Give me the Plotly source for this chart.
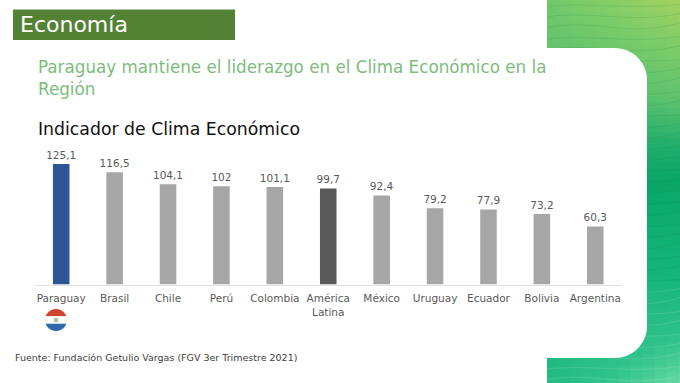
import numpy as np
import plotly.graph_objects as go

categories = ["Paraguay", "Brasil", "Chile", "Perú", "Colombia", "América<br>Latina",
              "México", "Uruguay", "Ecuador", "Bolivia", "Argentina"]
values = [125.1, 116.5, 104.1, 102, 101.1, 99.7, 92.4, 79.2, 77.9, 73.2, 60.3]
value_labels = ["125,1", "116,5", "104,1", "102", "101,1", "99,7", "92,4", "79,2", "77,9", "73,2", "60,3"]
bar_colors = ["#2F5597", "#A6A6A6", "#A6A6A6", "#A6A6A6", "#A6A6A6", "#595959",
              "#A6A6A6", "#A6A6A6", "#A6A6A6", "#A6A6A6", "#A6A6A6"]

W, H = 680, 383
FONT = "DejaVu Sans"
def px(x): return x / W
def py(y): return 1 - y / H

fig = go.Figure(go.Bar(
    x=categories, y=values, marker=dict(color=bar_colors, line=dict(width=0)),
    text=value_labels, textposition="outside", cliponaxis=False, constraintext="none",
    textfont=dict(family=FONT, size=10.5, color="#595959"), width=0.31,
    hoverinfo="skip",
))

shapes = []
# green gradient strip, slightly diagonal at both ends
stops = [(-70, (175, 212, 96)), (0, (165, 210, 96)), (50, (125, 205, 105)), (100, (95, 195, 110)),
         (145, (35, 175, 108)), (180, (10, 166, 104)), (280, (22, 182, 124)),
         (340, (50, 195, 140)), (383, (100, 218, 165))]
ys, rs = [s[0] for s in stops], np.array([s[1] for s in stops], dtype=float)
CW, CH = 12, 6
for x0 in range(547, W, CW):
    for y0 in range(0, H, CH):
        slope = np.interp(y0, [0, 170, 290, 383], [0.5, 0, 0, -0.6])
        t = y0 + CH / 2 + (W - x0 - CW / 2) * slope
        c = [int(np.interp(t, ys, rs[:, k])) for k in range(3)]
        shapes.append(dict(type="rect", xref="paper", yref="paper", layer="below",
                           x0=px(x0), x1=px(min(x0 + CW + 1, W)), y0=py(y0), y1=py(min(y0 + CH + 1, H)),
                           fillcolor=f"rgb({c[0]},{c[1]},{c[2]})", line=dict(width=0)))
# faint wave contours
for i, y0 in enumerate(range(6, H, 11)):
    d = 3 + 2 * ((i * 7) % 5)
    path = (f"M {px(547)} {py(y0)} C {px(590)} {py(y0 - d)}, {px(630)} {py(y0 + d)}, {px(680)} {py(y0 - d / 2)}")
    shapes.append(dict(type="path", xref="paper", yref="paper", layer="below", path=path,
                       line=dict(color="rgba(255,255,255,0.12)" if y0 > 290 else "rgba(20,120,60,0.15)", width=1)))
# white rounded panel
r = 32
panel = (f"M {px(547)} {py(48)} L {px(647 - r)} {py(48)} "
         f"C {px(647 - r * 0.45)} {py(48)}, {px(647)} {py(48 + r * 0.45)}, {px(647)} {py(48 + r)} "
         f"L {px(647)} {py(358 - r)} "
         f"C {px(647)} {py(358 - r * 0.45)}, {px(647 - r * 0.45)} {py(358)}, {px(647 - r)} {py(358)} "
         f"L {px(547)} {py(358)} Z")
shapes.append(dict(type="path", xref="paper", yref="paper", layer="below", path=panel,
                   fillcolor="white", line=dict(width=0)))
# header band
shapes.append(dict(type="rect", xref="paper", yref="paper", layer="below",
                   x0=px(13), x1=px(235), y0=py(9.5), y1=py(40),
                   fillcolor="#548235", line=dict(width=0)))
# flag
cx, cy, fr = 56, 320, 11
def seg(y_a, y_b, color):
    t = np.linspace(y_a, y_b, 24)
    dx = np.sqrt(np.maximum(fr ** 2 - (t - cy) ** 2, 0))
    pts = [(cx - a, b) for a, b in zip(dx, t)] + [(cx + a, b) for a, b in zip(dx[::-1], t[::-1])]
    p = "M " + " L ".join(f"{px(a):.5f} {py(b):.5f}" for a, b in pts) + " Z"
    shapes.append(dict(type="path", xref="paper", yref="paper", path=p, fillcolor=color, line=dict(width=0)))
seg(cy - fr, cy - 3.7, "#D0432F")
seg(cy - 3.7, cy + 3.7, "#FAFAFA")
seg(cy + 3.7, cy + fr, "#2F68A8")
shapes.append(dict(type="circle", xref="paper", yref="paper", x0=px(cx - 2.5), x1=px(cx + 2.5),
                   y0=py(cy + 2.5), y1=py(cy - 2.5), fillcolor="#B9C4A8", line=dict(width=0)))

def txt(x, y, s, size, color):
    return dict(x=px(x), y=py(y), xref="paper", yref="paper", text=s, showarrow=False,
                xanchor="left", yanchor="middle", align="left", xshift=-1,
                font=dict(family=FONT, size=size, color=color))

annotations = [
    txt(19, 25, "Economía", 22, "white"),
    txt(37, 67.5, "Paraguay mantiene el liderazgo en el Clima Económico en la", 16.75, "#7DBB7D"),
    txt(37, 88.5, "Región", 16.75, "#7DBB7D"),
    txt(37, 129, "Indicador de Clima Económico", 17.3, "#111111"),
    txt(14, 357.5, "Fuente: Fundación Getulio Vargas (FGV 3er Trimestre 2021)", 9.5, "#404040"),
]

fig.update_layout(
    width=W, height=H, margin=dict(l=0, r=0, t=0, b=0), autosize=False,
    paper_bgcolor="white", plot_bgcolor="rgba(0,0,0,0)", showlegend=False,
    shapes=shapes, annotations=annotations,
    xaxis=dict(domain=[px(34.5), px(622)], showline=True, linecolor="#E2E2E2", linewidth=1,
               ticks="", tickangle=0, showgrid=False, ticklabelstandoff=4,
               tickfont=dict(family=FONT, size=10.5, color="#595959")),
    yaxis=dict(domain=[py(284.5), py(140)], range=[0, 150], visible=False, showgrid=False),
)
fig.write_html("out.html", config=dict(displayModeBar=False),
               post_script="document.body.style.margin='0';document.documentElement.style.overflow='hidden';")
